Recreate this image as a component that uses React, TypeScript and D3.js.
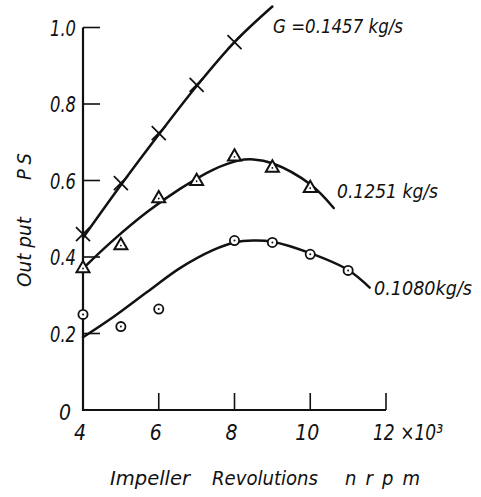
import React from "react";
import * as d3 from "d3";

// Measured points (impeller revolutions x10^3 rpm, output PS)
const crossX = [4, 5, 6, 7, 8];
const crossY = [0.46, 0.593, 0.724, 0.85, 0.962];
const triX = [4, 5, 6, 7, 8, 9, 10];
const triY = [0.37, 0.43, 0.553, 0.598, 0.662, 0.633, 0.58];
const circX = [4, 5, 6, 8, 9, 10, 11];
const circY = [0.25, 0.218, 0.264, 0.443, 0.438, 0.407, 0.365];

// Hand-drawn fitted curves
const curve1X = [4, 5, 6, 7, 8, 9.0];
const curve1Y = [0.45, 0.588, 0.72, 0.847, 0.962, 1.055];
const curve2X = [4, 4.8, 5.7, 6.56, 7.43, 8.1, 8.5, 9, 10, 10.62];
const curve2Y = [0.37, 0.444, 0.518, 0.578, 0.628, 0.652, 0.655, 0.645, 0.59, 0.528];
const curve3X = [4, 4.8, 5.7, 6.56, 7.43, 8, 8.5, 9, 10, 11, 11.57];
const curve3Y = [0.19, 0.243, 0.309, 0.371, 0.418, 0.438, 0.443, 0.44, 0.41, 0.366, 0.32];

const xTicks = [6, 8, 10, 12];
const xTickLabels = ["4", "6", "8", "10"];
const xTickLabelVals = [4, 6, 8, 10];
const xUnitLabel = "12 ×10³";
const yTicks = [0.2, 0.4, 0.6, 0.8, 1.0];
const yTickLabels = ["0", "0.2", "0.4", "0.6", "0.8", "1.0"];
const yTickLabelVals = [0, 0.2, 0.4, 0.6, 0.8, 1.0];

const seriesLabels = ["G =0.1457 kg/s", "0.1251 kg/s", "0.1080kg/s"];

const FONT = "'DejaVu Sans Condensed', 'Liberation Sans Narrow', 'DejaVu Sans', sans-serif";

export default function App() {
  const x = d3.scaleLinear().domain([4, 12]).range([83, 386]);
  const y = d3.scaleLinear().domain([0, 1]).range([410, 27.5]);

  const mk = (xs: number[], ys: number[]) =>
    d3
      .line<number>()
      .x((_, i) => x(xs[i]))
      .y((_, i) => y(ys[i]))
      .curve(d3.curveCatmullRom.alpha(0.5))(xs) || "";

  const tri = (cx: number, cy: number, key: string) => {
    const s = 13;
    const h = (s * Math.sqrt(3)) / 2;
    const p = [
      [cx, cy - (2 * h) / 3],
      [cx - s / 2, cy + h / 3],
      [cx + s / 2, cy + h / 3],
    ];
    return (
      <g key={key}>
        <polygon points={p.map((q) => q.join(",")).join(" ")} fill="#fff" stroke="#111" strokeWidth={2} strokeLinejoin="miter" />
        <circle cx={cx} cy={cy} r={0.9} fill="#111" />
      </g>
    );
  };

  return (
    <svg width={481} height={497} style={{ position: "absolute", left: 0, top: 0, background: "#fff" }}>
      <rect width={481} height={497} fill="#fff" />
      {/* axes */}
      <line x1={x(4)} x2={x(4)} y1={y(0) + 1} y2={y(1.0)} stroke="#111" strokeWidth={2.2} />
      <line x1={x(4) - 1} x2={x(12)} y1={y(0)} y2={y(0)} stroke="#111" strokeWidth={2.2} />
      {yTicks.map((t) => (
        <line key={"yt" + t} x1={x(4)} x2={x(4) + 17} y1={y(t)} y2={y(t)} stroke="#111" strokeWidth={1.6} />
      ))}
      {xTicks.map((t) => (
        <line key={"xt" + t} x1={x(t)} x2={x(t)} y1={y(0)} y2={y(0) - 17} stroke="#111" strokeWidth={1.6} />
      ))}
      {/* tick labels */}
      <g fontFamily={FONT} fontStyle="italic" fontSize={21} fill="#111">
        {yTickLabelVals.map((v, i) =>
          v === 0 ? (
            <text key={"yl" + i} x={71} y={y(0) + 10} textAnchor="end">
              {yTickLabels[i]}
            </text>
          ) : (
            <text key={"yl" + i} x={50} y={y(v) + 8} textLength={26} lengthAdjust="spacingAndGlyphs">
              {yTickLabels[i]}
            </text>
          )
        )}
        {xTickLabelVals.map((v, i) => (
          <text key={"xl" + i} x={x(v) - 3} y={440} textAnchor="middle">
            {xTickLabels[i]}
          </text>
        ))}
        <text x={373} y={440} textLength={70} lengthAdjust="spacingAndGlyphs">
          {xUnitLabel}
        </text>
      </g>
      {/* curves */}
      <g fill="none" stroke="#111" strokeWidth={2.5} strokeLinecap="round">
        <path d={mk(curve1X, curve1Y)} />
        <path d={mk(curve2X, curve2Y)} />
        <path d={mk(curve3X, curve3Y)} />
      </g>
      {/* markers */}
      {crossX.map((v, i) => {
        const cx = x(v);
        const cy = y(crossY[i]);
        const a = 7;
        return (
          <g key={"c" + i} stroke="#111" strokeWidth={1.8}>
            <line x1={cx - a} y1={cy - a} x2={cx + a} y2={cy + a} />
            <line x1={cx - a} y1={cy + a} x2={cx + a} y2={cy - a} />
          </g>
        );
      })}
      {triX.map((v, i) => tri(x(v), y(triY[i]), "t" + i))}
      {circX.map((v, i) => (
        <g key={"o" + i}>
          <circle cx={x(v)} cy={y(circY[i])} r={4.6} fill="#fff" stroke="#111" strokeWidth={1.8} />
          <circle cx={x(v)} cy={y(circY[i])} r={1} fill="#111" />
        </g>
      ))}
      {/* series labels */}
      <g fontFamily={FONT} fontStyle="italic" fill="#111" fontSize={20}>
        <text x={273} y={33} textLength={130} lengthAdjust="spacingAndGlyphs">
          {seriesLabels[0]}
        </text>
        <text x={337} y={198} textLength={101} lengthAdjust="spacingAndGlyphs">
          {seriesLabels[1]}
        </text>
        <text x={374} y={295} textLength={98} lengthAdjust="spacingAndGlyphs">
          {seriesLabels[2]}
        </text>
      </g>
      {/* axis titles */}
      <g fontFamily={FONT} fontStyle="italic" fill="#111" fontSize={20}>
        <text x={110} y={485} textLength={80} lengthAdjust="spacingAndGlyphs">Impeller</text>
        <text x={212} y={485} textLength={106} lengthAdjust="spacingAndGlyphs">Revolutions</text>
        <text x={345} y={485} textLength={75} lengthAdjust="spacing">n r p m</text>
        <text transform="translate(31,287) rotate(-90)" textLength={70} lengthAdjust="spacingAndGlyphs">Out put</text>
        <text transform="translate(31,180) rotate(-90)" textLength={27} lengthAdjust="spacing">P S</text>
      </g>
    </svg>
  );
}
